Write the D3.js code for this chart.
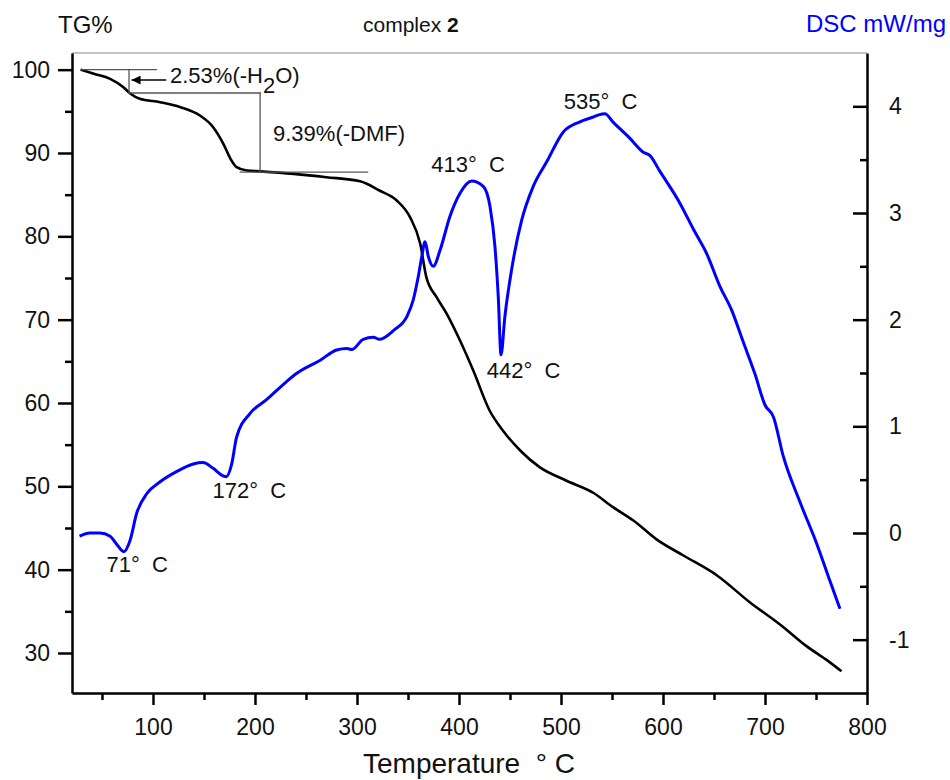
<!DOCTYPE html>
<html>
<head>
    <meta charset="UTF-8">
    <title>TG-DSC complex 2</title>
    <style>
        body {
            margin: 0;
            background-color: #FFFFFF;
        }

        svg {
            display: block;
            background-color: #FFFFFF;
            font-family: "Liberation Sans", Arial, sans-serif;
        }

        .axis path,
        .axis line {
            stroke: #000;
            stroke-width: 2.5;
        }

        .axis text {
            font-size: 23px;
            fill: #111;
        }
    </style>
</head>

<body>
    <div id="graph-container"></div>

    <script src="https://cdn.jsdelivr.net/npm/d3@7"></script>

    <script>
        // TG curve (black, left axis)
        const tgTemp = [29, 42, 58, 71, 78, 87, 107, 127, 146, 159, 169, 176, 182, 192, 205, 238, 270, 303, 322, 339,
            352, 362, 368, 378, 388, 401, 414, 430, 443, 460, 479, 505, 532, 551, 571, 594, 620, 653, 685, 715,
            741, 760, 775];
        const tgValue = [100, 99.5, 98.9, 97.9, 97.1, 96.5, 96.1, 95.5, 94.5, 93.1, 91.1, 89.3, 88.3, 87.9, 87.8, 87.5,
            87.1, 86.6, 85.5, 84.3, 82.3, 79.1, 75.1, 72.7, 70.7, 67.5, 63.9, 59.1, 56.7, 54.3, 52.3, 50.7, 49.2,
            47.5, 45.9, 43.6, 41.7, 39.3, 36.1, 33.4, 30.8, 29.2, 27.8];

        // DSC curve (blue, right axis)
        const dscTemp = [28, 38, 48, 58, 64, 71.5, 77.5, 84, 94, 107, 123, 139.5, 149, 159, 169, 172, 177, 182,
            195, 211, 231, 241, 264, 280, 290, 295, 306, 316, 322, 336, 349, 355, 360, 363.5, 366.7, 370, 374.8,
            381.4, 391, 401, 412.4, 423.8, 430.4, 435.3, 438.5, 441.2, 445, 451.6, 461.4, 472.8, 486, 502.3, 518.6,
            531.7, 537, 543, 551.3, 567.6, 580.7, 587, 597, 616.7, 629.7, 642.8, 655.9, 667.3, 678.7, 690.2, 700,
            708.2, 717.9, 734.3, 750.7, 763.7, 773.5];
        const dscValue = [-0.03, 0.00, 0.00, -0.03, -0.10, -0.175, -0.07, 0.185, 0.37, 0.48, 0.575, 0.647, 0.66,
            0.606, 0.534, 0.528, 0.64, 0.90, 1.12, 1.247, 1.42, 1.497, 1.62, 1.716, 1.73, 1.72, 1.816, 1.835,
            1.816, 1.90, 2.03, 2.18, 2.40, 2.59, 2.73, 2.59, 2.50, 2.65, 2.965, 3.185, 3.30, 3.25, 3.06, 2.68, 2.215,
            1.67, 2.03, 2.47, 2.93, 3.25, 3.48, 3.76, 3.855, 3.90, 3.92, 3.93, 3.85, 3.70, 3.57, 3.54, 3.39, 3.09,
            2.85, 2.62, 2.31, 2.09, 1.79, 1.49, 1.20, 1.09, 0.72, 0.29, -0.10, -0.45, -0.71];

        // peak / dip temperatures written on the DSC curve
        const dscPeaks = [71, 172, 413, 442, 535];

        // tick values
        const tempTicks = [100, 200, 300, 400, 500, 600, 700, 800];
        const tempMinor = [50, 150, 250, 350, 450, 550, 650, 750];
        const tgTicks = [30, 40, 50, 60, 70, 80, 90, 100];
        const tgMinor = [35, 45, 55, 65, 75, 85, 95];
        const dscTicks = [-1, 0, 1, 2, 3, 4];
        const dscMinor = [-0.5, 0.5, 1.5, 2.5, 3.5];

        // mass-loss steps: [T, TG] pairs for the bracket lines
        const stepWater = [[29, 100], [104, 100]];
        const stepWaterDrop = [[76.5, 100], [76.5, 97.2]];
        const stepMid = [[76.5, 97.2], [206, 97.2]];
        const stepDmfDrop = [[205, 97.2], [205, 87.7]];
        const stepDmf = [[185, 87.7], [311, 87.7]];
        const arrowLine = [[113, 98.75], [79, 98.75]];

        let margin = { top: 53, right: 83, bottom: 87, left: 72 },
            width = 950 - margin.left - margin.right,
            height = 780 - margin.top - margin.bottom;

        let x = d3.scaleLinear().domain([20.6, 800]).range([0, width]);
        let yTG = d3.scaleLinear().domain([25.2, 102]).range([height, 0]);
        let yDSC = d3.scaleLinear().domain([-1.5, 4.5]).range([height, 0]);

        let root = d3.select("#graph-container").append("svg")
            .attr("width", 950)
            .attr("height", 780);

        let svg = root.append("g")
            .attr("transform", "translate(" + margin.left + "," + margin.top + ")");

        // thin top frame line
        svg.append("line")
            .attr("x1", 0).attr("x2", width)
            .attr("y1", 0).attr("y2", 0)
            .attr("stroke", "#8a8a8a")
            .attr("stroke-width", 1.2);

        // bottom axis
        svg.append("g")
            .attr("class", "axis")
            .attr("transform", "translate(0," + height + ")")
            .call(d3.axisBottom(x).tickValues(tempTicks).tickSize(12).tickSizeOuter(0).tickPadding(14));
        svg.append("g")
            .attr("class", "axis")
            .attr("transform", "translate(0," + height + ")")
            .call(d3.axisBottom(x).tickValues(tempMinor).tickSize(7).tickFormat(""))
            .call(g => g.select(".domain").remove());

        // left axis (TG)
        svg.append("g")
            .attr("class", "axis")
            .call(d3.axisLeft(yTG).tickValues(tgTicks).tickSize(14).tickSizeOuter(0).tickPadding(8));
        svg.append("g")
            .attr("class", "axis")
            .call(d3.axisLeft(yTG).tickValues(tgMinor).tickSize(7).tickFormat(""))
            .call(g => g.select(".domain").remove());

        // right axis (DSC), ticks pointing inward
        svg.append("g")
            .attr("class", "axis")
            .attr("transform", "translate(" + width + ",0)")
            .call(d3.axisRight(yDSC).tickValues(dscTicks).tickSize(-14).tickSizeOuter(0).tickPadding(22)
                .tickFormat(d => String(d)));
        svg.append("g")
            .attr("class", "axis")
            .attr("transform", "translate(" + width + ",0)")
            .call(d3.axisRight(yDSC).tickValues(dscMinor).tickSize(-7).tickFormat(""))
            .call(g => g.select(".domain").remove());

        // curves
        let tgLine = d3.line()
            .x(i => x(tgTemp[i]))
            .y(i => yTG(tgValue[i]))
            .curve(d3.curveMonotoneX);

        let dscLine = d3.line()
            .x(i => x(dscTemp[i]))
            .y(i => yDSC(dscValue[i]))
            .curve(d3.curveMonotoneX);

        svg.append("path")
            .datum(d3.range(tgTemp.length))
            .attr("d", tgLine)
            .attr("fill", "none")
            .attr("stroke", "#000")
            .attr("stroke-width", 2.6)
            .attr("stroke-linejoin", "round");

        svg.append("path")
            .datum(d3.range(dscTemp.length))
            .attr("d", dscLine)
            .attr("fill", "none")
            .attr("stroke", "#0000ff")
            .attr("stroke-width", 3)
            .attr("stroke-linejoin", "round");

        // mass-loss brackets
        [stepWater, stepWaterDrop, stepMid, stepDmfDrop, stepDmf].forEach(seg => {
            svg.append("line")
                .attr("x1", x(seg[0][0])).attr("y1", yTG(seg[0][1]))
                .attr("x2", x(seg[1][0])).attr("y2", yTG(seg[1][1]))
                .attr("stroke", "#555")
                .attr("stroke-width", 1.3);
        });

        root.append("defs").append("marker")
            .attr("id", "arrow")
            .attr("viewBox", "0 0 10 10")
            .attr("refX", 10).attr("refY", 5)
            .attr("markerWidth", 14).attr("markerHeight", 9)
            .attr("markerUnits", "userSpaceOnUse")
            .attr("orient", "auto")
            .append("path")
            .attr("d", "M0,0L10,5L0,10Z")
            .attr("fill", "#000");

        svg.append("line")
            .attr("x1", x(arrowLine[0][0])).attr("y1", yTG(arrowLine[0][1]))
            .attr("x2", x(arrowLine[1][0])).attr("y2", yTG(arrowLine[1][1]))
            .attr("stroke", "#000")
            .attr("stroke-width", 1.5)
            .attr("marker-end", "url(#arrow)");

        // step labels
        let waterText = root.append("text")
            .attr("x", 170).attr("y", 83)
            .attr("font-size", 22)
            .attr("fill", "#111");
        waterText.append("tspan").text("2.53%(-H");
        waterText.append("tspan").attr("dy", 10).text("2");
        waterText.append("tspan").attr("dy", -10).text("O)");

        root.append("text")
            .attr("x", 273).attr("y", 141)
            .attr("font-size", 22)
            .attr("fill", "#111")
            .text("9.39%(-DMF)");

        // peak labels
        const peakOffset = [[-17, 20], [-14, 21], [-41, -9], [-15, 23], [-33, -6]];
        dscPeaks.forEach((t, k) => {
            let i = d3.minIndex(dscTemp, d => Math.abs(d - t));
            svg.append("text")
                .attr("x", x(t) + peakOffset[k][0])
                .attr("y", yDSC(dscValue[i]) + peakOffset[k][1])
                .attr("font-size", 22)
                .attr("fill", "#111")
                .style("white-space", "pre")
                .text(t + "\u00b0  C");
        });

        // titles
        root.append("text")
            .attr("x", 58).attr("y", 33)
            .attr("font-size", 24)
            .attr("fill", "#111")
            .text("TG%");

        let title = root.append("text")
            .attr("x", 363).attr("y", 32)
            .attr("font-size", 21)
            .attr("fill", "#111");
        title.append("tspan").text("complex ");
        title.append("tspan").attr("font-weight", "bold").text("2");

        root.append("text")
            .attr("x", 946).attr("y", 32)
            .attr("text-anchor", "end")
            .attr("font-size", 24)
            .attr("fill", "#0000ff")
            .text("DSC mW/mg");

        root.append("text")
            .attr("x", 363).attr("y", 773)
            .attr("font-size", 28)
            .attr("fill", "#111")
            .style("white-space", "pre")
            .text("Temperature  \u00b0 C");
    </script>
</body>

</html>
